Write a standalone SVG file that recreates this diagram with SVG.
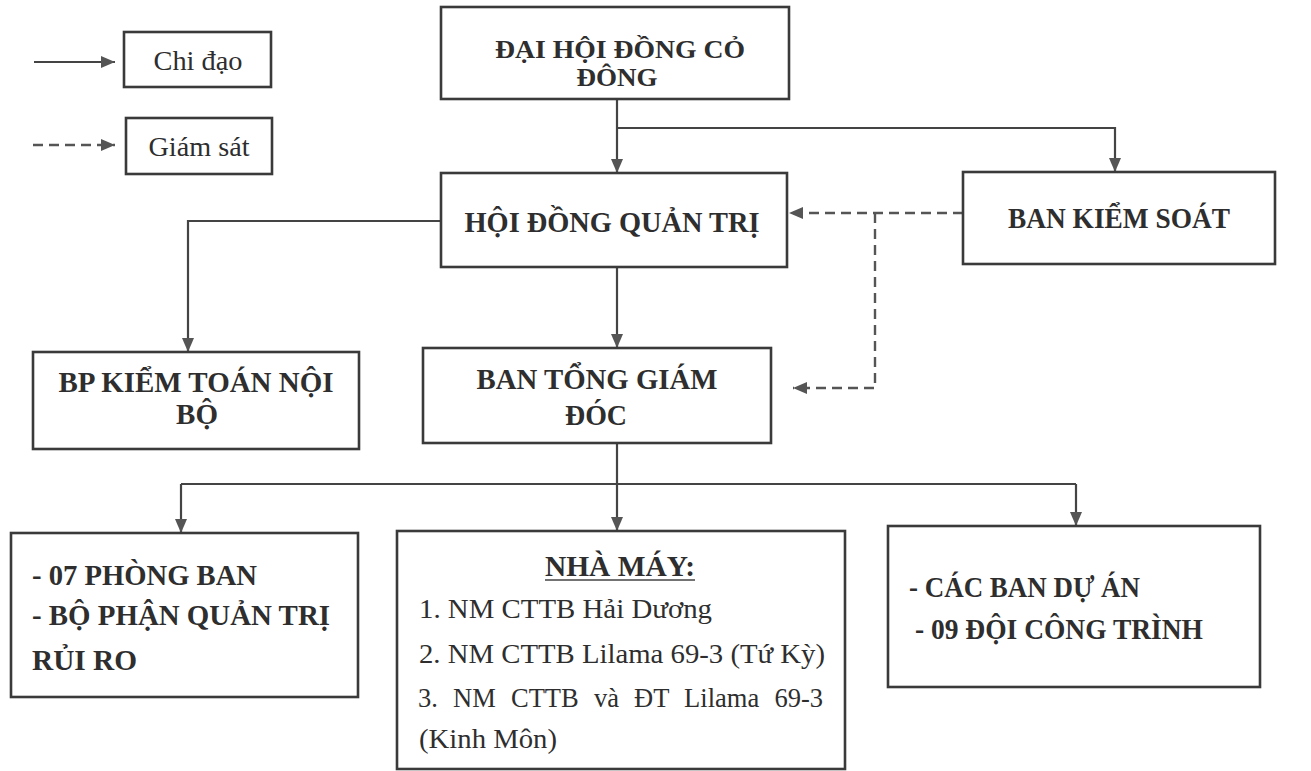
<svg xmlns="http://www.w3.org/2000/svg" width="1311" height="771" viewBox="0 0 1311 771">
<style>
.box{fill:#fff;stroke:#3a3a3a;stroke-width:2.6}
.t{font-family:"Liberation Serif","Times New Roman",serif;fill:#2e2e2e}
.b{font-weight:bold;font-size:29px}
.r{font-size:28px}
.c{stroke:#444;stroke-width:2.2;fill:none}
.d{stroke:#555;stroke-width:2.4;fill:none;stroke-dasharray:10 6}
</style>
<defs>
<marker id="ah" markerUnits="userSpaceOnUse" markerWidth="16" markerHeight="16" viewBox="0 0 16 16" refX="15" refY="8" orient="auto">
<path d="M1,2 L15,8 L1,14 Z" fill="#555"/>
</marker>
</defs>
<rect width="1311" height="771" fill="#fff"/>
<g id="legend">
<line class="c" x1="34" y1="62" x2="115" y2="62" marker-end="url(#ah)"/>
<rect class="box" x="124" y="32" width="147" height="55"/>
<text class="t r" x="198" y="70" text-anchor="middle" textLength="89" lengthAdjust="spacingAndGlyphs">Chi đạo</text>
<line class="d" x1="33" y1="145" x2="115" y2="145" marker-end="url(#ah)"/>
<rect class="box" x="126" y="118" width="146" height="56"/>
<text class="t r" x="199" y="156" text-anchor="middle" textLength="101" lengthAdjust="spacingAndGlyphs">Giám sát</text>
</g>
<g id="connectors">
<path class="c" d="M617,99 V173" marker-end="url(#ah)"/>
<path class="c" d="M617,128 H1115 V172" marker-end="url(#ah)"/>
<path class="c" d="M441,221 H188 V352" marker-end="url(#ah)"/>
<path class="c" d="M617,267 V348" marker-end="url(#ah)"/>
<path class="d" d="M963,213 H789" marker-end="url(#ah)"/>
<path class="d" d="M875,213 V388 H793" marker-end="url(#ah)"/>
<path class="c" d="M617,443 V531" marker-end="url(#ah)"/>
<path class="c" d="M181,484 H1076"/>
<path class="c" d="M181,484 V533" marker-end="url(#ah)"/>
<path class="c" d="M1076,484 V526" marker-end="url(#ah)"/>
</g>
<g id="dhdcd">
<rect class="box" x="441" y="7" width="348" height="92"/>
<text class="t" font-weight="bold" font-size="25" x="620" y="58" text-anchor="middle" textLength="250" lengthAdjust="spacingAndGlyphs">ĐẠI HỘI ĐỒNG CỎ</text>
<text class="t" font-weight="bold" font-size="25" x="617" y="86" text-anchor="middle" textLength="81" lengthAdjust="spacingAndGlyphs">ĐÔNG</text>
</g>
<g id="hdqt">
<rect class="box" x="441" y="173" width="346" height="94"/>
<text class="t b" x="612" y="232" text-anchor="middle" textLength="295" lengthAdjust="spacingAndGlyphs">HỘI ĐỒNG QUẢN TRỊ</text>
</g>
<g id="bks">
<rect class="box" x="963" y="172" width="312" height="92"/>
<text class="t b" x="1119" y="228" text-anchor="middle" textLength="222" lengthAdjust="spacingAndGlyphs">BAN KIỂM SOÁT</text>
</g>
<g id="bpktnb">
<rect class="box" x="33" y="352" width="326" height="97"/>
<text class="t b" x="196" y="392" text-anchor="middle" textLength="275" lengthAdjust="spacingAndGlyphs">BP KIỂM TOÁN NỘI</text>
<text class="t b" x="197" y="424" text-anchor="middle">BỘ</text>
</g>
<g id="btgd">
<rect class="box" x="423" y="348" width="348" height="95"/>
<text class="t b" x="597" y="389" text-anchor="middle" textLength="241" lengthAdjust="spacingAndGlyphs">BAN TỔNG GIÁM</text>
<text class="t b" x="596" y="425" text-anchor="middle" textLength="62" lengthAdjust="spacingAndGlyphs">ĐÓC</text>
</g>
<g id="phongban">
<rect class="box" x="11" y="533" width="347" height="164"/>
<text class="t b" x="32" y="585" textLength="225" lengthAdjust="spacingAndGlyphs">- 07 PHÒNG BAN</text>
<text class="t b" x="32" y="625" textLength="298" lengthAdjust="spacingAndGlyphs">- BỘ PHẬN QUẢN TRỊ</text>
<text class="t b" x="32" y="670" textLength="105" lengthAdjust="spacingAndGlyphs">RỦI RO</text>
</g>
<g id="nhamay">
<rect class="box" x="397" y="531" width="448" height="238"/>
<text class="t b" x="620" y="576" text-anchor="middle" textLength="150" lengthAdjust="spacingAndGlyphs">NHÀ MÁY:</text>
<line x1="545" y1="580" x2="695" y2="580" stroke="#444" stroke-width="1.6"/>
<text class="t r" x="419" y="618" textLength="293" lengthAdjust="spacingAndGlyphs">1. NM CTTB Hải Dương</text>
<text class="t r" x="419" y="663" textLength="406" lengthAdjust="spacingAndGlyphs">2. NM CTTB Lilama 69-3 (Tứ Kỳ)</text>
<text class="t r" x="418" y="707" word-spacing="9" textLength="405" lengthAdjust="spacingAndGlyphs">3. NM CTTB và ĐT Lilama 69-3</text>
<text class="t r" x="419" y="748" textLength="138" lengthAdjust="spacingAndGlyphs">(Kinh Môn)</text>
</g>
<g id="duan">
<rect class="box" x="888" y="526" width="372" height="161"/>
<text class="t b" x="909" y="597" textLength="231" lengthAdjust="spacingAndGlyphs">- CÁC BAN DỰ ÁN</text>
<text class="t b" x="915" y="639" textLength="288" lengthAdjust="spacingAndGlyphs">- 09 ĐỘI CÔNG TRÌNH</text>
</g>
</svg>
